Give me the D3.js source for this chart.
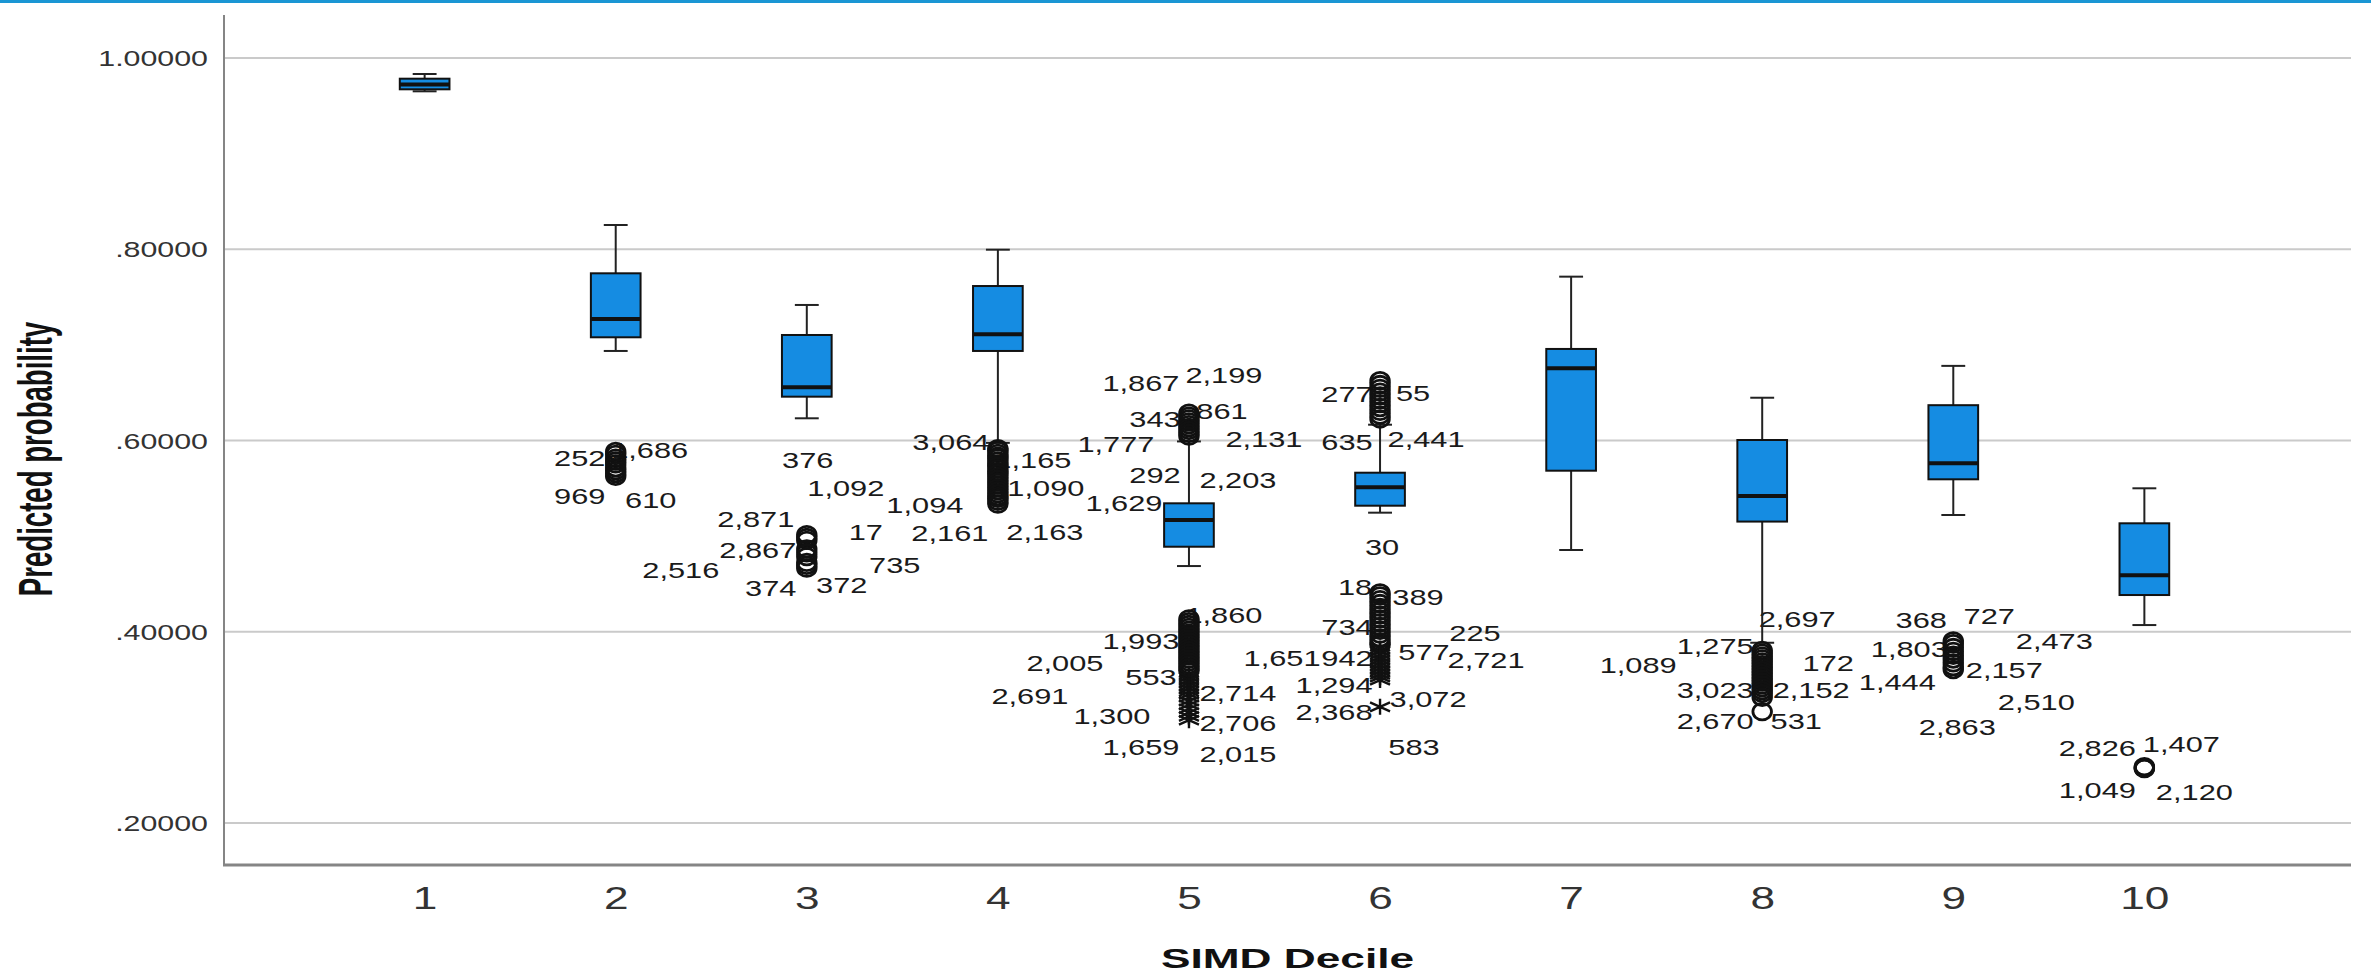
<!DOCTYPE html>
<html>
<head>
<meta charset="utf-8">
<script src="https://cdn.jsdelivr.net/npm/d3@7"></script>
<style>
  html, body { margin: 0; padding: 0; background: #fff; }
  svg { display: block; font-family: "Liberation Sans", Arial, sans-serif; }
</style>
</head>
<body>
<div id="chart"></div>
<script>
// box statistics per SIMD decile
const deciles     = [1, 2, 3, 4, 5, 6, 7, 8, 9, 10];
const whiskerLow  = [0.9646, 0.6931, 0.6227, 0.5970, 0.4682, 0.5240, 0.4850, 0.3880, 0.5216, 0.4065];
const q1          = [0.9667, 0.7074, 0.6453, 0.6931, 0.4884, 0.5313, 0.5679, 0.5147, 0.5589, 0.4379];
const median      = [0.9718, 0.7265, 0.6551, 0.7105, 0.5163, 0.5505, 0.6750, 0.5414, 0.5757, 0.4585];
const q3          = [0.9778, 0.7743, 0.7098, 0.7610, 0.5338, 0.5658, 0.6952, 0.6000, 0.6364, 0.5129];
const whiskerHigh = [0.9827, 0.8248, 0.7412, 0.7990, 0.5985, 0.6160, 0.7708, 0.6442, 0.6775, 0.5495];

// outliers (o) and extremes (*) per decile
const outlierCircles = [
  [],
  [0.588, 0.585, 0.581, 0.578, 0.575, 0.571, 0.568, 0.565, 0.562],
  [0.501, 0.498, 0.495, 0.486, 0.482, 0.478, 0.472, 0.469, 0.466],
  [0.591, 0.589, 0.586, 0.583, 0.581, 0.578, 0.575, 0.573, 0.570, 0.567, 0.565, 0.562,
   0.559, 0.556, 0.553, 0.550, 0.547, 0.544, 0.541, 0.539, 0.536, 0.533],
  [0.628, 0.625, 0.622, 0.619, 0.616, 0.613, 0.610, 0.607, 0.604,
   0.413, 0.410, 0.407, 0.404, 0.401, 0.398, 0.395, 0.392, 0.389, 0.386, 0.383, 0.380,
   0.377, 0.374, 0.371, 0.368, 0.365, 0.362, 0.359],
  [0.662, 0.658, 0.654, 0.650, 0.646, 0.642, 0.638, 0.634, 0.630, 0.626, 0.622,
   0.440, 0.437, 0.433, 0.429, 0.425, 0.421, 0.417, 0.413, 0.409, 0.405, 0.401, 0.397,
   0.393, 0.389, 0.386],
  [],
  [0.380, 0.377, 0.374, 0.371, 0.368, 0.365, 0.362, 0.359, 0.356, 0.353, 0.350, 0.347,
   0.344, 0.341, 0.338, 0.335, 0.331, 0.316],
  [0.390, 0.387, 0.383, 0.379, 0.375, 0.371, 0.367, 0.363, 0.360],
  [0.2585, 0.2575, 0.2570, 0.2565]
];
const outlierStars = [
  [], [], [], [],
  [0.355, 0.352, 0.349, 0.346, 0.343, 0.340, 0.337, 0.334, 0.331, 0.327, 0.323, 0.319, 0.315, 0.311, 0.307],
  [0.382, 0.379, 0.376, 0.373, 0.370, 0.367, 0.364, 0.361, 0.358, 0.355, 0.352, 0.349, 0.321],
  [], [], [], []
];

// case-number labels next to the outliers
const labelDecile = [2,2,2,2, 3,3,3,3,3,3,3,3,3, 4,4,4,4,4,4,
  5,5,5,5,5,5,5,5,5,5,5,5,5,5,5,5,5,5,5,
  6,6,6,6,6,6,6,6,6,6,6,6,6,6,6,6,6,
  8,8,8,8,8,8,8,8, 9,9,9,9,9,9,9,9, 10,10,10,10];
const labelText = ["252","1,686","969","610",
  "376","1,092","2,871","17","2,867","2,516","735","374","372",
  "1,094","3,064","1,165","1,090","2,161","2,163",
  "1,867","2,199","343","861","1,777","2,131","292","2,203","1,629","1,860","1,993","2,005","553","2,714","2,691","1,300","2,706","1,659","2,015",
  "277","55","635","2,441","30","18","389","734","225","577","2,721","942","1,651","1,294","2,368","3,072","583",
  "2,697","1,275","1,089","172","3,023","2,152","2,670","531",
  "368","727","1,803","2,473","2,157","1,444","2,510","2,863",
  "2,826","1,407","1,049","2,120"];
const labelValue = [0.5812,0.5895,0.5414,0.5367,
  0.5794,0.5498,0.5177,0.5036,0.4853,0.4640,0.4693,0.4453,0.4484,
  0.5320,0.5974,0.5791,0.5498,0.5027,0.5037,
  0.6596,0.6679,0.6220,0.6304,0.5958,0.6005,0.5637,0.5576,0.5341,0.4170,0.3895,0.3668,0.3525,0.3356,0.3317,0.3108,0.3042,0.2791,0.2711,
  0.6481,0.6491,0.5979,0.6005,0.4880,0.4457,0.4358,0.4047,0.3981,0.3786,0.3699,0.3720,0.3723,0.3438,0.3150,0.3294,0.2793,
  0.4128,0.3849,0.3648,0.3669,0.3381,0.3381,0.3059,0.3059,
  0.4112,0.4159,0.3810,0.3893,0.3595,0.3470,0.3257,0.3002,
  0.2776,0.2818,0.2340,0.2319];
// horizontal placement of each label relative to its box (layout, px)
const labelDx = [-36,34,-36,35,
  1,39,-51,59,-49,-126,88,-36,35,
  -73,-47,35,48,-48,47,
  -48,35,-34,33,-73,75,-34,49,-65,35,-48,-124,-38,49,-159,-77,49,-48,49,
  -33,33,-33,46,2,-25,38,-33,95,44,106,-33,-98,-46,-46,48,34,
  35,-47,-124,66,-47,49,-47,34,
  -32,36,-44,101,51,-56,83,4,
  -47,37,-47,50];

const yTicks = [0.2, 0.4, 0.6, 0.8, 1.0];

const W = 2371, H = 976;
const plot = {left: 224, right: 2351, top: 15, bottom: 865};
const stretch = 1.4;          // the source chart was widened, text too
const boxBlue = '#158ce2';

const svg = d3.select('#chart').append('svg')
  .attr('width', W).attr('height', H);

svg.append('rect').attr('x', 0).attr('y', 0)
  .attr('width', W).attr('height', 3).attr('fill', '#1a96d4');

const x = d3.scalePoint()
  .domain(deciles)
  .range([plot.left, plot.right - 6])
  .padding(1.05);
const y = d3.scaleLinear()
  .domain([0.1556, 1.0444])
  .range([plot.bottom, plot.top]);

// y axis + gridlines
const fmt = d => d3.format('.5f')(d).replace(/^0/, '');
const gy = svg.append('g')
  .attr('transform', 'translate(' + plot.left + ',0)')
  .call(d3.axisLeft(y).tickValues(yTicks).tickFormat(fmt)
    .tickSizeInner(-(plot.right - plot.left)).tickSizeOuter(0));
gy.select('.domain').remove();
gy.selectAll('.tick line').attr('stroke', '#cacaca').attr('stroke-width', 2);
gy.selectAll('.tick text')
  .attr('x', -16 / 1.38).attr('y', 8).attr('dy', null)
  .attr('transform', 'scale(1.38,1)')
  .attr('font-size', 22).attr('fill', '#333')
  .attr('font-family', '"Liberation Sans", Arial, sans-serif');

// x axis labels
const gx = svg.append('g')
  .attr('transform', 'translate(0,' + plot.bottom + ')')
  .call(d3.axisBottom(x).tickSize(0));
gx.select('.domain').remove();
gx.selectAll('.tick text')
  .attr('y', 44).attr('dy', null)
  .attr('transform', 'scale(1.38,1)')
  .attr('font-size', 32).attr('fill', '#333')
  .attr('font-family', '"Liberation Sans", Arial, sans-serif');

// axis lines
svg.append('line')
  .attr('x1', plot.left).attr('x2', plot.left)
  .attr('y1', plot.top).attr('y2', plot.bottom)
  .attr('stroke', '#858585').attr('stroke-width', 2);
svg.append('line')
  .attr('x1', plot.left - 1).attr('x2', plot.right)
  .attr('y1', plot.bottom).attr('y2', plot.bottom)
  .attr('stroke', '#858585').attr('stroke-width', 3);

// axis titles
svg.append('text')
  .text('SIMD Decile')
  .attr('text-anchor', 'middle')
  .attr('font-weight', 'bold').attr('font-size', 28).attr('fill', '#111')
  .attr('transform', 'translate(' + ((plot.left + plot.right) / 2) + ',968) scale(1.58,1)');
svg.append('text')
  .text('Predicted probability')
  .attr('text-anchor', 'middle')
  .attr('font-weight', 'bold').attr('font-size', 27.6).attr('fill', '#111')
  .attr('transform', 'translate(52,459) rotate(-90) scale(1,1.72)');

// case labels
svg.selectAll('text.caselabel')
  .data(labelText)
  .enter()
  .append('text')
  .attr('class', 'caselabel')
  .text(d => d)
  .attr('text-anchor', 'middle')
  .attr('font-size', 22).attr('fill', '#1a1a1a')
  .attr('transform', (d, i) => 'translate(' + (x(labelDecile[i]) + labelDx[i]) + ','
        + (y(labelValue[i]) + 7.9) + ') scale(' + stretch + ',1)');

// boxes
const step = x.step();
const boxW = step * 0.26, capW = step * 0.125;
const boxes = deciles.map((d, i) => ({
  d: d, lo: whiskerLow[i], q1: q1[i], med: median[i], q3: q3[i], hi: whiskerHigh[i]
}));

const gb = svg.append('g');
gb.selectAll('line.whisk-lo').data(boxes).enter().append('line')
  .attr('x1', b => x(b.d)).attr('x2', b => x(b.d))
  .attr('y1', b => y(b.q1)).attr('y2', b => y(b.lo))
  .attr('stroke', '#222').attr('stroke-width', 2);
gb.selectAll('line.whisk-hi').data(boxes).enter().append('line')
  .attr('x1', b => x(b.d)).attr('x2', b => x(b.d))
  .attr('y1', b => y(b.q3)).attr('y2', b => y(b.hi))
  .attr('stroke', '#222').attr('stroke-width', 2);
gb.selectAll('line.cap-lo').data(boxes).enter().append('line')
  .attr('x1', b => x(b.d) - capW / 2).attr('x2', b => x(b.d) + capW / 2)
  .attr('y1', b => y(b.lo)).attr('y2', b => y(b.lo))
  .attr('stroke', '#222').attr('stroke-width', 2);
gb.selectAll('line.cap-hi').data(boxes).enter().append('line')
  .attr('x1', b => x(b.d) - capW / 2).attr('x2', b => x(b.d) + capW / 2)
  .attr('y1', b => y(b.hi)).attr('y2', b => y(b.hi))
  .attr('stroke', '#222').attr('stroke-width', 2);
gb.selectAll('rect.box').data(boxes).enter().append('rect')
  .attr('x', b => x(b.d) - boxW / 2)
  .attr('y', b => y(b.q3))
  .attr('width', boxW)
  .attr('height', b => y(b.q1) - y(b.q3))
  .attr('fill', boxBlue).attr('stroke', '#111').attr('stroke-width', 2);
gb.selectAll('line.median').data(boxes).enter().append('line')
  .attr('x1', b => x(b.d) - boxW / 2).attr('x2', b => x(b.d) + boxW / 2)
  .attr('y1', b => y(b.med)).attr('y2', b => y(b.med))
  .attr('stroke', '#111').attr('stroke-width', 4);

// outlier markers
const circ = [];
deciles.forEach((d, i) => outlierCircles[i].forEach(v => circ.push({d: d, v: v})));
const stars = [];
deciles.forEach((d, i) => outlierStars[i].forEach(v => stars.push({d: d, v: v})));

svg.selectAll('ellipse.outlier').data(circ).enter().append('ellipse')
  .attr('class', 'outlier')
  .attr('cx', p => x(p.d)).attr('cy', p => y(p.v))
  .attr('rx', 9.3).attr('ry', 8.3)
  .attr('fill', 'none').attr('stroke', '#111').attr('stroke-width', 2.8);

const starPath = 'M0,-8L0,8M-10,-4.5L10,4.5M-10,4.5L10,-4.5';
svg.selectAll('path.extreme').data(stars).enter().append('path')
  .attr('class', 'extreme')
  .attr('d', starPath)
  .attr('transform', p => 'translate(' + x(p.d) + ',' + y(p.v) + ')')
  .attr('fill', 'none').attr('stroke', '#111').attr('stroke-width', 2.4);
</script>
</body>
</html>
